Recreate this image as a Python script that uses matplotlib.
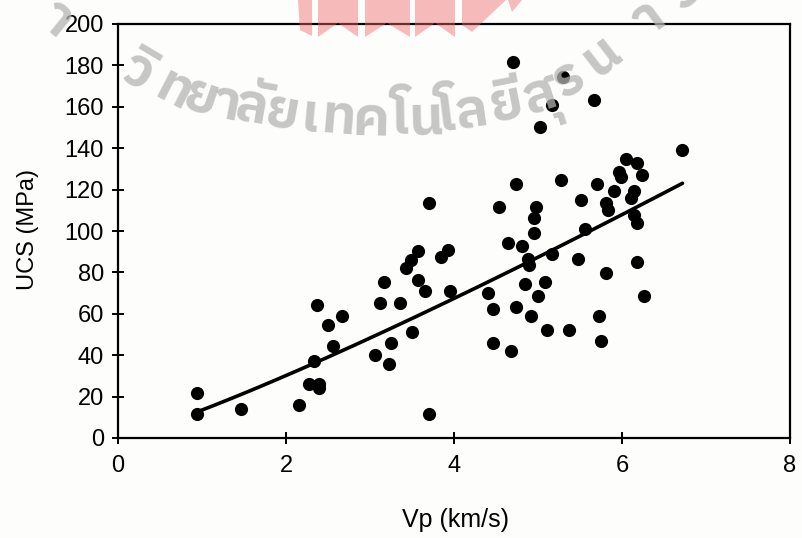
import numpy as np
import matplotlib
matplotlib.use("Agg")
import matplotlib.pyplot as plt
from matplotlib import font_manager
from matplotlib.ft2font import FT2Font
from matplotlib.font_manager import FontProperties
from matplotlib.patches import Polygon

# P-wave velocity (km/s) and uniaxial compressive strength (MPa)
vp = [0.94, 0.94, 1.46, 2.15, 2.27, 2.39, 2.39, 2.33, 2.56, 2.50,
      2.37, 2.67, 3.06, 3.23, 3.25, 3.12, 3.17, 3.36, 3.50, 3.43,
      3.49, 3.57, 3.57, 3.65, 3.70, 3.70, 3.85, 3.93, 3.95, 4.70,
      5.30, 5.17, 5.67, 5.02, 6.71, 6.05, 6.18, 5.96, 5.99, 6.24,
      4.74, 5.27, 5.70, 5.90, 6.14, 6.11, 5.81, 5.83, 5.51, 4.54,
      4.98, 4.95, 6.14, 6.18, 4.95, 5.56, 4.64, 4.81, 4.88, 4.89,
      5.17, 5.48, 6.18, 5.81, 4.40, 4.85, 5.08, 4.46, 4.74, 5.00,
      4.92, 5.11, 5.37, 5.73, 6.26, 4.46, 4.68, 5.75]
ucs = [21.7, 11.6, 14.0, 15.9, 26.1, 26.1, 24.2, 37.2, 44.4, 54.6,
       64.3, 58.9, 40.1, 35.7, 45.9, 65.2, 75.4, 65.2, 51.2, 82.1,
       86.0, 90.3, 76.3, 71.0, 113.5, 11.6, 87.4, 90.8, 71.0, 181.6,
       174.4, 160.9, 163.3, 150.2, 139.1, 134.8, 132.9, 128.5, 126.1, 127.1,
       122.7, 124.6, 122.7, 119.3, 119.3, 115.9, 113.5, 110.1, 115.0, 111.6,
       111.6, 106.3, 107.7, 103.9, 99.0, 101.0, 94.2, 92.8, 86.5, 83.6,
       88.9, 86.5, 85.0, 79.7, 70.0, 74.4, 75.4, 62.3, 63.3, 68.6,
       58.9, 52.2, 52.2, 58.9, 68.6, 45.9, 42.0, 46.9]

# Power-law trend: UCS = a * Vp^b
fit_a = 13.5
fit_b = 1.16
fit_range = (0.94, 6.72)

x_ticks = [0, 2, 4, 6, 8]
y_ticks = list(range(0, 201, 20))

W, H = 802, 538
plt.rcParams["font.family"] = ["Liberation Sans Narrow", "Liberation Sans",
                               "DejaVu Sans"]

fig = plt.figure(figsize=(W / 100, H / 100), dpi=100, facecolor="#fdfdfc")
ax = fig.add_axes([118 / W, 100 / H, 672 / W, 414 / H])
ax.set_facecolor("#fdfdfc")

ax.scatter(vp, ucs, s=90, color="black", zorder=3, linewidths=0)
xf = np.linspace(fit_range[0], fit_range[1], 200)
ax.plot(xf, fit_a * xf ** fit_b, color="black", lw=2.6, zorder=2,
        solid_capstyle="round")

ax.set_xlim(0, 8)
ax.set_ylim(0, 200)
ax.set_xticks(x_ticks)
ax.set_yticks(y_ticks)
ax.tick_params(direction="inout", length=8, width=1.4, labelsize=17,
               color="black", labelcolor="black")
ax.tick_params(axis="x", pad=8)
ax.tick_params(axis="y", pad=6)
for s in ax.spines.values():
    s.set_linewidth(1.6)
    s.set_color("black")

fig.text(28 / W, 1 - 230 / H, "UCS (MPa)", rotation=90, ha="center",
         va="center", fontsize=17)
fig.text(455 / W, 1 - 520 / H, "Vp (km/s)", ha="center", va="center",
         fontsize=18)


# ---- university watermark overlay (pixel coords, y downward) ----
def px(x, y):
    return x / W, 1 - y / H


# red pennant emblem at the top
pennants = [
    [(298, 0), (312, 0), (312, 36), (300, 30)],
    [(318, 0), (358, 0), (358, 37), (338, 23), (318, 37)],
    [(365, 0), (410, 0), (410, 37), (387, 23), (365, 37)],
    [(415, 0), (455, 0), (455, 37), (435, 23), (415, 37)],
    [(462, 0), (506, 0), (472, 32), (462, 25)],
    [(508, 0), (522, 0), (512, 12)],
]
for poly in pennants:
    fig.patches.append(Polygon([px(*p) for p in poly], closed=True,
                               transform=fig.transFigure, facecolor="#ee6a6a",
                               edgecolor="none", alpha=0.45, zorder=10))


def find_thai_family():
    best = None
    for f in font_manager.fontManager.ttflist:
        try:
            ft = FT2Font(f.fname)
            if ft.get_char_index(0x0E17) and ft.get_char_index(0x0E22):
                if "Thai" in f.name:
                    return f.name
                if best is None:
                    best = f.name
        except Exception:
            continue
    return best


thai_family = find_thai_family()
if thai_family is not None:
    # letter clusters and the x where each one starts on the arch
    clusters = ["ม", "ห", "า", "วิ", "ท", "ย", "า", "ลั", "ย", "เ", "ท", "ค",
                "โ", "น", "โ", "ล", "ยี", "สุ", "ร", "น", "า", "รี"]
    starts_x = [-100, -45, 36, 117, 152, 181, 210, 232, 264, 300, 320, 353,
                392, 410, 440, 457, 494, 528, 563, 597, 646, 682]
    fs_pt = 39
    fp = FontProperties(family=thai_family, weight="bold")

    # baseline curve of the arched lettering
    bx = np.array([-120, 0, 40, 113, 159, 200, 240, 290, 350, 420, 460, 500,
                   530, 560, 589, 631, 680, 720, 780])
    by = np.array([-100, -10, 26, 74, 100, 114, 121, 130, 135, 134, 129, 122,
                   114, 102, 84, 50, 14, -20, -75])
    xs = np.linspace(bx[0], bx[-1], 3000)
    ys = np.interp(xs, bx, by)
    k = 40
    ys = np.convolve(np.pad(ys, k, mode="edge"),
                     np.ones(2 * k + 1) / (2 * k + 1), mode="valid")
    ang = np.degrees(np.arctan2(-np.gradient(ys), np.gradient(xs)))

    for cl, sx in zip(clusters, starts_x):
        y = np.interp(sx, xs, ys)
        rot = np.interp(sx, xs, ang)
        fx, fy = px(sx, y)
        fig.text(fx, fy, cl, fontproperties=fp, fontsize=fs_pt,
                 color="#b4b4b4", alpha=0.75, rotation=rot,
                 rotation_mode="anchor", ha="left", va="baseline", zorder=11)

fig.savefig("out.png", dpi=100, facecolor=fig.get_facecolor())
